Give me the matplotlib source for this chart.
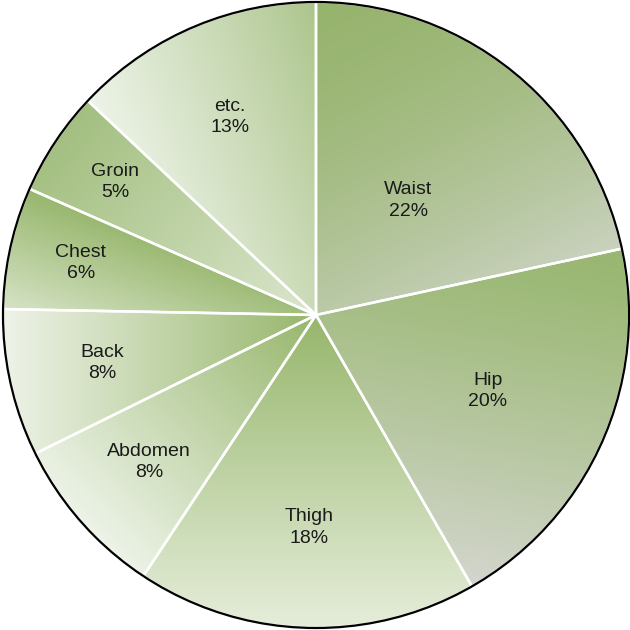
import numpy as np
import matplotlib
matplotlib.use('Agg')
import matplotlib.pyplot as plt
from matplotlib.colors import to_rgb
from matplotlib.patches import Circle

parts = ['Waist', 'Hip', 'Thigh', 'Abdomen', 'Back', 'Chest', 'Groin', 'etc.']
shares = [21.6, 20.1, 17.6, 8.4, 7.6, 6.3, 5.4, 13.0]

# style: position des etiquettes (fraction du rayon), degrade (fonce -> clair)
label_r = [0.47, 0.60, 0.68, 0.71, 0.70, 0.77, 0.77, 0.69]
grad_dir = [-65, -100, -90, -135, 180, -110, -40, -160]
grad_gamma = [1.6, 1.2, 1.0, 1.0, 1.0, 1.0, 1.0, 0.9]
dark = ['#97b46e', '#98b770', '#97b66c', '#97b66c', '#97b66c', '#97b66c', '#a3bf80', '#abc48a']
light = ['#cad2bf', '#d4d6ce', '#e6eedb', '#eef4e9', '#eef3e8', '#d6e3c6', '#dbe6cd', '#eef4e9']

fig = plt.figure(figsize=(6.3, 6.3), dpi=100)
ax = fig.add_axes([0, 0, 1, 1])
cx, cy, R = 316, 315, 313

wedges, _ = ax.pie(shares, startangle=90, counterclock=False, center=(cx, cy), radius=R,
                   wedgeprops=dict(edgecolor='white', linewidth=1.8))

for w, ang, g, dc, lc in zip(wedges, grad_dir, grad_gamma, dark, light):
    verts = w.get_path().vertices
    x0, y0 = verts.min(axis=0)
    x1, y1 = verts.max(axis=0)
    X, Y = np.meshgrid(np.linspace(x0, x1, 300), np.linspace(y0, y1, 300))
    d = np.array([np.cos(np.radians(ang)), np.sin(np.radians(ang))])
    p = verts @ d
    t = (X * d[0] + Y * d[1] - p.min()) / (p.max() - p.min())
    t = (np.clip(t, 0, 1) ** g)[..., None]
    img = np.array(to_rgb(dc)) * (1 - t) + np.array(to_rgb(lc)) * t
    im = ax.imshow(img, extent=(x0, x1, y0, y1), origin='lower', interpolation='bilinear', zorder=1)
    im.set_clip_path(w)
    w.set_facecolor('none')
    w.set_zorder(3)

ax.add_patch(Circle((cx, cy), R, fill=False, edgecolor='black', linewidth=1.6, zorder=4))

for w, name, s, r in zip(wedges, parts, shares, label_r):
    mid = np.radians((w.theta1 + w.theta2) / 2)
    ax.text(cx + r * R * np.cos(mid), cy + r * R * np.sin(mid), f"{name}\n{round(s)}%",
            ha='center', va='center', fontsize=14, family='Liberation Sans',
            linespacing=1.35, color='#1a1a1a', zorder=5)

ax.set_xlim(0, 630)
ax.set_ylim(0, 630)
ax.set_aspect('equal')
ax.axis('off')
fig.savefig('out.png', dpi=100)
